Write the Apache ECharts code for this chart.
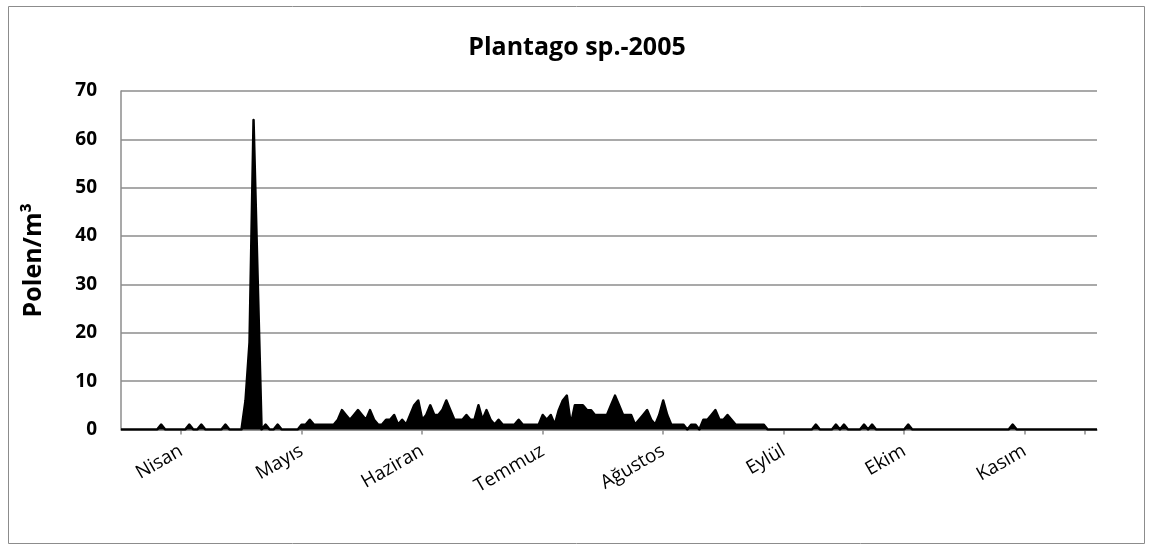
<!DOCTYPE html>
<html>
<head>
<meta charset="utf-8">
<script src="https://cdn.jsdelivr.net/npm/echarts@6/dist/echarts.min.js"></script>
<style>
html,body{margin:0;padding:0;background:#fff;}
#chart{width:1154px;height:551px;}
</style>
</head>
<body>
<div id="chart"></div>
<script>
// Daily pollen counts, 1 April - 30 November 2005 (244 days)
const pollen = [
  0,0,0,0,0,0,0,0,0,0,
  1,0,0,0,0,0,0,1,0,0,
  1,0,0,0,0,0,1,0,0,0,
  0,6,18,64,32,0,1,0,0,1,
  0,0,0,0,0,1,1,2,1,1,
  1,1,1,1,2,4,3,2,3,4,
  3,2,4,2,1,1,2,2,3,1,
  2,1,3,5,6,2,3,5,3,3,
  4,6,4,2,2,2,3,2,2,5,
  2,4,2,1,2,1,1,1,1,2,
  1,1,1,1,1,3,2,3,1,4,
  6,7,1,5,5,5,4,4,3,3,
  3,3,5,7,5,3,3,3,1,2,
  3,4,2,1,3,6,3,1,1,1,
  1,0,1,1,0,2,2,3,4,2,
  2,3,2,1,1,1,1,1,1,1,
  1,0,0,0,0,0,0,0,0,0,
  0,0,0,1,0,0,0,0,1,0,
  1,0,0,0,0,1,0,1,0,0,
  0,0,0,0,0,0,1,0,0,0,
  0,0,0,0,0,0,0,0,0,0,
  0,0,0,0,0,0,0,0,0,0,
  0,0,1,0,0,0,0,0,0,0,
  0,0,0,0,0,0,0,0,0,0,
  0,0,0,0
];
const monthLabels = ['Nisan','Mayıs','Haziran','Temmuz','Ağustos','Eylül','Ekim','Kasım'];
const labelIdx = [15,45,75,105,135,165,195,225];
const tickIdx = [15,45,75,105,135,165,195,225,240];
const yTicks = [0,10,20,30,40,50,60,70];

const days = pollen.map((v, i) => 'd' + (i + 1));

const chart = echarts.init(document.getElementById('chart'));
chart.setOption({
  animation: false,
  backgroundColor: '#fff',
  title: {
    text: 'Plantago sp.-2005',
    left: 'center',
    top: 30,
    textStyle: {fontFamily: 'Open Sans', fontWeight: 'bold', fontSize: 25, color: '#000'}
  },
  graphic: [{
    type: 'rect', shape: {x: 8.5, y: 6.5, width: 1136, height: 537},
    style: {fill: 'none', stroke: '#8c8c8c', lineWidth: 1}, silent: true
  }],
  grid: {left: 121, right: 57, top: 91, bottom: 121.5},
  xAxis: {
    type: 'category',
    data: days,
    boundaryGap: false,
    axisLine: {lineStyle: {color: '#8c8c8c', width: 1.5}},
    axisTick: {
      show: true,
      interval: (i) => tickIdx.includes(i),
      length: 5,
      lineStyle: {color: '#8c8c8c', width: 1.5}
    },
    axisLabel: {
      interval: (i) => labelIdx.includes(i),
      formatter: (v, i) => {
        const k = labelIdx.indexOf(i);
        return k >= 0 ? monthLabels[k] : '';
      },
      rotate: 30,
      margin: 20,
      fontFamily: 'Open Sans',
      fontSize: 19,
      color: '#000'
    },
    splitLine: {show: false}
  },
  yAxis: {
    type: 'value',
    min: yTicks[0],
    max: yTicks[yTicks.length - 1],
    interval: 10,
    name: 'Polen/m³',
    nameLocation: 'middle',
    nameRotate: 90,
    nameGap: 75,
    nameTextStyle: {fontFamily: 'Open Sans', fontWeight: 'bold', fontSize: 25, color: '#000'},
    axisLine: {show: true, lineStyle: {color: '#8c8c8c', width: 1.5}},
    axisTick: {show: false},
    axisLabel: {fontFamily: 'Open Sans', fontWeight: 'bold', fontSize: 19, color: '#000', margin: 24},
    splitLine: {lineStyle: {color: '#8c8c8c', width: 1.5}}
  },
  series: [{
    type: 'line',
    data: pollen,
    symbol: 'none',
    smooth: false,
    lineStyle: {color: '#000', width: 2.5, join: 'round'},
    areaStyle: {color: '#000', opacity: 1},
    z: 3
  }]
});
</script>
</body>
</html>
